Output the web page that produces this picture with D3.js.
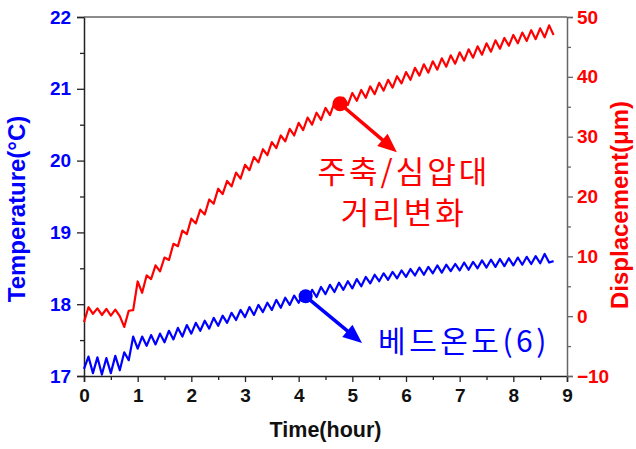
<!DOCTYPE html>
<html>
<head>
<meta charset="utf-8">
<script src="https://cdn.jsdelivr.net/npm/d3@7"></script>
<style>
  body { margin: 0; background: #fff; }
  text { font-family: "Liberation Sans", Arial, sans-serif; }
  .kr { font-family: "Noto Sans CJK KR", sans-serif; }
</style>
</head>
<body>
<div id="chart"></div>
<script>
// sampling: one value every 5 minutes (1/12 hour), 0 .. 8.75 h
var sampleStep = 1 / 12;

// spindle / tailstock distance change (um), right axis
var displacement = [
  -1.0, 1.5, 0.4, 1.3, 0.2, 1.2, 0.1, 1.1, 0.0, -1.8, 0.9, 1.0,
  5.8, 3.9, 6.8, 6.2, 8.5, 7.5, 9.8, 9.4, 12.1, 11.7, 14.3, 13.7,
  16.3, 15.5, 17.8, 17.0, 19.5, 18.8, 21.3, 20.4, 22.6, 21.7, 24.0, 23.0,
  25.3, 24.4, 26.6, 25.7, 27.9, 26.9, 29.1, 28.1, 30.2, 29.2, 31.3, 30.2,
  32.3, 31.1, 33.2, 32.0, 34.0, 32.8, 34.8, 33.6, 35.7, 34.5, 36.5, 35.3,
  37.3, 36.0, 37.8, 36.5, 38.4, 37.1, 39.0, 37.7, 39.5, 38.2, 40.1, 38.9,
  40.8, 39.5, 41.5, 40.2, 42.1, 40.7, 42.6, 41.2, 43.1, 41.7, 43.6, 42.2,
  44.1, 42.7, 44.6, 43.2, 45.1, 43.7, 45.6, 44.2, 46.1, 44.7, 46.5, 45.2,
  47.0, 45.6, 47.4, 46.0, 47.8, 46.3, 48.1, 46.6, 48.6, 47.0
];

// bed temperature (6) (deg C), left axis
var temperature = [
  17.10, 17.27, 17.04, 17.26, 17.02, 17.25, 17.04, 17.28, 17.08, 17.33, 17.22, 17.55,
  17.38, 17.55, 17.42, 17.57, 17.44, 17.59, 17.47, 17.63, 17.51, 17.67, 17.55, 17.71,
  17.59, 17.74, 17.63, 17.77, 17.66, 17.81, 17.70, 17.84, 17.74, 17.88, 17.78, 17.92,
  17.82, 17.96, 17.85, 17.99, 17.89, 18.02, 17.92, 18.06, 17.95, 18.09, 17.99, 18.12,
  18.02, 18.16, 18.06, 18.20, 18.10, 18.24, 18.14, 18.27, 18.17, 18.30, 18.20, 18.32,
  18.22, 18.35, 18.25, 18.38, 18.29, 18.41, 18.32, 18.43, 18.34, 18.45, 18.36, 18.47,
  18.38, 18.49, 18.40, 18.51, 18.41, 18.52, 18.43, 18.54, 18.44, 18.55, 18.46, 18.56,
  18.47, 18.58, 18.48, 18.59, 18.50, 18.61, 18.51, 18.62, 18.52, 18.63, 18.53, 18.64,
  18.54, 18.65, 18.55, 18.66, 18.56, 18.67, 18.57, 18.70, 18.58, 18.60
];

var xTicks = [0, 1, 2, 3, 4, 5, 6, 7, 8, 9];
var tempTicks = [17, 18, 19, 20, 21, 22];
var dispTicks = [-10, 0, 10, 20, 30, 40, 50];

// annotations (data units)
var redMarker = { t: 4.77, v: 35.5 }, redArrowTip = { t: 5.83, v: 27.4 };
var blueMarker = { t: 4.13, v: 18.11 }, blueArrowTip = { t: 5.18, v: 17.46 };
var redLabel = ["주축/심압대", "거리변화"];
var blueLabel = "베드온도(6)";

var svgWidth = 636, svgHeight = 449;
var margin = { top: 17, right: 69, bottom: 73, left: 84 };
var width = svgWidth - margin.left - margin.right;
var height = svgHeight - margin.top - margin.bottom;

var svg = d3.select("#chart").append("svg")
  .attr("width", svgWidth)
  .attr("height", svgHeight);

var g = svg.append("g")
  .attr("transform", `translate(${margin.left}, ${margin.top})`);

var x = d3.scaleLinear().domain([0, 9]).range([0, width]);
var yT = d3.scaleLinear().domain([17, 22]).range([height, 0]);
var yD = d3.scaleLinear().domain([-10, 50]).range([height, 0]);

// axes
var bottomAxis = d3.axisBottom(x).tickValues(xTicks).tickSize(6).tickFormat(d3.format("d"));
var leftAxis = d3.axisLeft(yT).tickValues(tempTicks).tickSize(7).tickFormat(d3.format("d"));
var rightAxis = d3.axisRight(yD).tickValues(dispTicks).tickSize(6).tickFormat(d3.format("d"));

var gx = g.append("g").attr("transform", `translate(0, ${height})`).call(bottomAxis);
var gl = g.append("g").call(leftAxis);
var gr = g.append("g").attr("transform", `translate(${width}, 0)`).call(rightAxis);

// minor ticks
var mx = g.append("g").attr("transform", `translate(0, ${height})`)
  .call(d3.axisBottom(x).tickValues(d3.range(0.5, 9, 1)).tickSize(4).tickFormat(""));
var ml = g.append("g")
  .call(d3.axisLeft(yT).tickValues(d3.range(17.5, 22, 1)).tickSize(4).tickFormat(""));
var mr = g.append("g").attr("transform", `translate(${width}, 0)`)
  .call(d3.axisRight(yD).tickValues(d3.range(-5, 50, 10)).tickSize(4).tickFormat(""));
[mx, ml, mr].forEach(s => s.select(".domain").remove());

// top frame line
g.append("line")
  .attr("x1", 0).attr("x2", width).attr("y1", 0).attr("y2", 0)
  .attr("stroke", "#666").attr("stroke-width", 1.5);

g.selectAll(".domain").attr("stroke-width", 1.5);
g.selectAll(".tick line").attr("stroke-width", 1.3);
[gx, gl, mx, ml].forEach(s => s.selectAll(".domain, .tick line").attr("stroke", "#222"));
[gr, mr].forEach(s => s.selectAll(".domain, .tick line").attr("stroke", "#666"));

gx.selectAll(".tick text").attr("font-size", 19).style("font-weight", "bold")
  .attr("fill", "#111").attr("dy", "0.92em");
gl.selectAll(".tick text").attr("font-size", 19).style("font-weight", "bold")
  .attr("fill", "#0000ff").attr("dx", "-0.15em");
gr.selectAll(".tick text").attr("font-size", 19).style("font-weight", "bold")
  .attr("fill", "#ff0000").attr("dx", "0.05em");

// lines
var lineD = d3.line().x((d, i) => x(i * sampleStep)).y(d => yD(d));
var lineT = d3.line().x((d, i) => x(i * sampleStep)).y(d => yT(d));

g.append("path").datum(displacement)
  .attr("d", lineD).attr("fill", "none")
  .attr("stroke", "#ff0000").attr("stroke-width", 2.2).attr("stroke-linejoin", "round");

g.append("path").datum(temperature)
  .attr("d", lineT).attr("fill", "none")
  .attr("stroke", "#0000ff").attr("stroke-width", 2.2).attr("stroke-linejoin", "round");

// annotations: dot + arrow
function arrow(x1, y1, x2, y2, color, r) {
  var dx = x2 - x1, dy = y2 - y1, len = Math.sqrt(dx * dx + dy * dy);
  var ux = dx / len, uy = dy / len, headL = 19, headW = 8;
  var bx = x2 - ux * headL, by = y2 - uy * headL;
  g.append("line")
    .attr("x1", x1).attr("y1", y1).attr("x2", bx + ux * 2).attr("y2", by + uy * 2)
    .attr("stroke", color).attr("stroke-width", 3.5);
  g.append("path")
    .attr("d", `M${x2},${y2} L${bx - uy * headW},${by + ux * headW} L${bx + uy * headW},${by - ux * headW} Z`)
    .attr("fill", color);
  g.append("circle").attr("cx", x1).attr("cy", y1).attr("r", r).attr("fill", color);
}
arrow(x(redMarker.t), yD(redMarker.v), x(redArrowTip.t), yD(redArrowTip.v), "#ff0000", 7.5);
arrow(x(blueMarker.t), yT(blueMarker.v), x(blueArrowTip.t), yT(blueArrowTip.v), "#0000ff", 7);

g.selectAll(".redlab")
  .data(redLabel)
  .enter()
  .append("text")
  .attr("class", "kr")
  .attr("x", x(5.96))
  .attr("y", (d, i) => yD(22.3) + i * 41)
  .attr("text-anchor", "middle")
  .attr("font-size", 31)
  .attr("letter-spacing", 3)
  .attr("fill", "#ff0000")
  .text(d => d);

g.append("text")
  .attr("class", "kr")
  .attr("x", x(7.08))
  .attr("y", yT(17.33))
  .attr("text-anchor", "middle")
  .attr("font-size", 30)
  .attr("letter-spacing", 3.5)
  .attr("fill", "#0000ff")
  .text(blueLabel);

// axis labels
svg.append("text")
  .attr("transform", "translate(25, 209) rotate(-90)")
  .attr("text-anchor", "middle")
  .attr("font-size", 24).style("font-weight", "bold")
  .attr("fill", "#0000ff")
  .text("Temperature(°C)");

svg.append("text")
  .attr("transform", "translate(628, 205) rotate(-90)")
  .attr("text-anchor", "middle")
  .attr("font-size", 24).style("font-weight", "bold")
  .attr("fill", "#ff0000")
  .text("Displacement(μm)");

svg.append("text")
  .attr("x", margin.left + width / 2)
  .attr("y", 437)
  .attr("text-anchor", "middle")
  .attr("font-size", 21.5).style("font-weight", "bold")
  .attr("fill", "#111")
  .text("Time(hour)");
</script>
</body>
</html>
